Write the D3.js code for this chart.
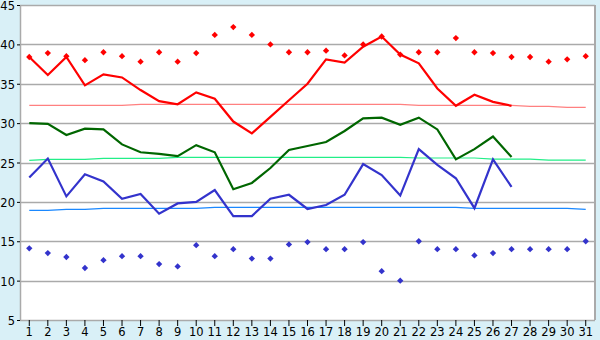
<!DOCTYPE html>
<html>
<head>
<meta charset="utf-8">
<style>
    body { margin: 0; background: #d9f0f7; }
    svg { display: block; }
    .tick text { font-family: 'DejaVu Sans', sans-serif; font-size: 11.5px; fill: #000; }
    .domain { display: none; }
</style>
</head>
<body>
<svg width="600" height="340"></svg>
<script src="https://d3js.org/d3.v7.min.js"></script>
<script>
    let width = 600;
    let height = 340;
    let margin = { top: 5, right: 5, bottom: 20, left: 20 };

    let days = d3.range(1, 32);
    let yTicks = [5, 10, 15, 20, 25, 30, 35, 40, 45];

    let maxTemp = [38.4, 36.1, 38.4, 34.8, 36.2, 35.8, 34.2, 32.8, 32.4, 33.9,
        33.1, 30.2, 28.7, 30.8, 32.9, 35.0, 38.1, 37.7, 39.7, 41.0,
        38.7, 37.6, 34.4, 32.2, 33.6, 32.7, 32.2];
    let meanTemp = [30.0, 29.9, 28.5, 29.3, 29.2, 27.3, 26.3, 26.1, 25.8, 27.2,
        26.3, 21.6, 22.4, 24.3, 26.6, 27.1, 27.6, 29.0, 30.6, 30.7,
        29.8, 30.7, 29.2, 25.4, 26.7, 28.3, 25.7];
    let minTemp = [23.1, 25.5, 20.7, 23.5, 22.6, 20.4, 21.0, 18.5, 19.8, 20.0,
        21.5, 18.2, 18.2, 20.4, 20.9, 19.1, 19.6, 20.9, 24.8, 23.4,
        20.8, 26.7, 24.7, 23.0, 19.2, 25.4, 21.9];

    let recordHigh = [38.4, 38.9, 38.5, 38.0, 39.0, 38.5, 37.8, 39.0, 37.8, 38.9,
        41.2, 42.2, 41.2, 40.0, 39.0, 39.0, 39.2, 38.6, 40.0, 41.0,
        38.7, 39.0, 39.0, 40.8, 39.0, 38.9, 38.4, 38.4, 37.8, 38.1, 38.5];
    let recordLow = [14.1, 13.5, 13.0, 11.6, 12.6, 13.1, 13.1, 12.1, 11.8, 14.5,
        13.1, 14.0, 12.8, 12.8, 14.6, 14.9, 14.0, 14.0, 14.9, 11.2,
        10.0, 15.0, 14.0, 14.0, 13.2, 13.5, 14.0, 14.0, 14.0, 14.0, 15.0];

    let normalMax = [32.26, 32.26, 32.26, 32.26, 32.26, 32.26, 32.39, 32.39, 32.39, 32.39,
        32.39, 32.39, 32.39, 32.39, 32.39, 32.39, 32.39, 32.39, 32.39, 32.39,
        32.39, 32.26, 32.26, 32.26, 32.26, 32.26, 32.26, 32.13, 32.13, 32.0, 32.0];
    let normalMean = [25.28, 25.4, 25.4, 25.4, 25.53, 25.53, 25.53, 25.53, 25.66, 25.66,
        25.66, 25.66, 25.66, 25.66, 25.66, 25.66, 25.66, 25.66, 25.66, 25.66,
        25.66, 25.57, 25.57, 25.57, 25.57, 25.44, 25.44, 25.44, 25.3, 25.3, 25.3];
    let normalMin = [18.93, 18.93, 19.06, 19.06, 19.18, 19.18, 19.18, 19.18, 19.18, 19.18,
        19.3, 19.3, 19.3, 19.3, 19.3, 19.3, 19.3, 19.3, 19.3, 19.3,
        19.3, 19.3, 19.3, 19.3, 19.18, 19.18, 19.18, 19.18, 19.18, 19.18, 19.06];

    let svg = d3.select("svg");

    let x = d3.scaleBand()
        .domain(days)
        .range([margin.left, width - margin.right]);

    let y = d3.scaleLinear()
        .domain([5, 45])
        .range([height - margin.bottom, margin.top]);

    let cx = d => x(d) + x.bandwidth() / 2;

    // plot background
    svg.append("rect")
        .attr("x", margin.left)
        .attr("y", margin.top)
        .attr("width", width - margin.right - margin.left)
        .attr("height", height - margin.bottom - margin.top)
        .attr("fill", "#fff");

    // gridlines
    svg.append("g")
        .selectAll("line")
        .data(yTicks)
        .join("line")
        .attr("x1", margin.left)
        .attr("x2", width - margin.right)
        .attr("y1", d => Math.round(y(d)) + 0.5)
        .attr("y2", d => Math.round(y(d)) + 0.5)
        .attr("stroke", "#aaa")
        .attr("stroke-width", 1.5);

    // right border
    svg.append("line")
        .attr("x1", width - margin.right).attr("x2", width - margin.right)
        .attr("y1", margin.top).attr("y2", height - margin.bottom)
        .attr("stroke", "#aaa").attr("stroke-width", 2);

    // left axis line
    svg.append("line")
        .attr("x1", margin.left + 0.5).attr("x2", margin.left + 0.5)
        .attr("y1", margin.top).attr("y2", height - margin.bottom)
        .attr("stroke", "#aaa").attr("stroke-width", 1.5);

    let yAxis = svg.append("g")
        .attr("transform", `translate(${margin.left},0)`)
        .call(d3.axisLeft(y).tickValues(yTicks).tickSize(3).tickPadding(2));
    yAxis.selectAll(".tick line").attr("stroke", "#000");
    yAxis.selectAll(".tick text").attr("dy", "0.4em");

    let xAxis = svg.append("g")
        .attr("transform", `translate(0,${height - margin.bottom})`)
        .call(d3.axisBottom(x).tickSize(6).tickPadding(2));
    xAxis.selectAll(".tick line").attr("stroke", "#000");

    let line = d3.line()
        .x((d, i) => cx(days[i]))
        .y(d => y(d));

    // normals
    let normals = [
        { values: normalMax, color: "#ff8080" },
        { values: normalMean, color: "#22ee88" },
        { values: normalMin, color: "#1a88ff" }
    ];
    svg.append("g")
        .selectAll("path")
        .data(normals)
        .join("path")
        .attr("d", d => line(d.values))
        .attr("fill", "none")
        .attr("stroke", d => d.color)
        .attr("stroke-width", 1.2);

    // daily series
    let series = [
        { values: maxTemp, color: "#ff0000" },
        { values: meanTemp, color: "#006600" },
        { values: minTemp, color: "#3333cc" }
    ];
    svg.append("g")
        .selectAll("path")
        .data(series)
        .join("path")
        .attr("d", d => line(d.values))
        .attr("fill", "none")
        .attr("stroke", d => d.color)
        .attr("stroke-width", 2.2);

    // record markers: small square diamonds
    let marker = d3.symbol().type(d3.symbolSquare).size(20);
    let records = [
        { values: recordHigh, color: "#ff0000" },
        { values: recordLow, color: "#3333cc" }
    ];
    records.forEach(function (r) {
        svg.append("g")
            .selectAll("path")
            .data(r.values)
            .join("path")
            .attr("d", marker)
            .attr("transform", (d, i) => `translate(${cx(days[i])},${y(d)}) rotate(45)`)
            .attr("fill", r.color);
    });
</script>
</body>
</html>
